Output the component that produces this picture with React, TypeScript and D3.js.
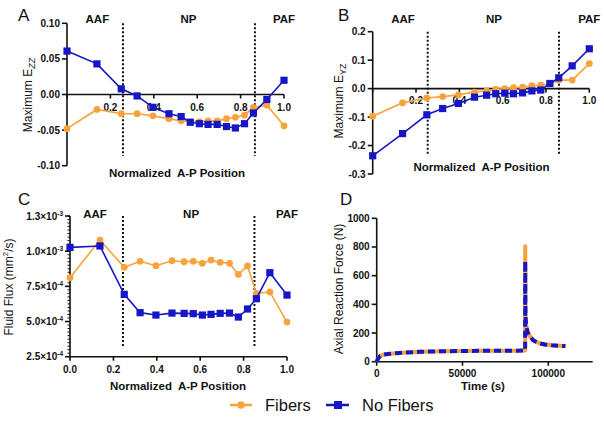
import React from 'react';
import * as d3 from 'd3';

// ---------- data ----------
const positions = [0, 0.138, 0.25, 0.323, 0.396, 0.47, 0.526, 0.568, 0.61, 0.65, 0.692, 0.735, 0.776, 0.818, 0.859, 0.921, 1.0];

const fibersA = [-0.048, -0.021, -0.027, -0.027, -0.030, -0.034, -0.037, -0.038, -0.038, -0.037, -0.037, -0.034, -0.032, -0.029, -0.018, -0.015, -0.044];
const noFibersA = [0.061, 0.043, 0.008, -0.002, -0.018, -0.027, -0.031, -0.039, -0.041, -0.042, -0.042, -0.045, -0.047, -0.041, -0.026, -0.007, 0.020];

const fibersB = [-0.097, -0.050, -0.033, -0.028, -0.022, -0.012, -0.008, -0.003, 0.0, 0.003, 0.005, 0.010, 0.012, 0.016, 0.030, 0.030, 0.088];
const noFibersB = [-0.236, -0.158, -0.092, -0.070, -0.052, -0.030, -0.023, -0.018, -0.016, -0.018, -0.015, -0.008, -0.005, 0.018, 0.038, 0.080, 0.140];

const fibersC = [8.12e-4, 1.079e-3, 8.85e-4, 9.28e-4, 8.97e-4, 9.32e-4, 9.25e-4, 9.28e-4, 9.14e-4, 9.37e-4, 9.21e-4, 9.14e-4, 8.35e-4, 8.95e-4, 7.0e-4, 7.1e-4, 4.96e-4];
const noFibersC = [1.027e-3, 1.037e-3, 6.93e-4, 5.63e-4, 5.46e-4, 5.6e-4, 5.58e-4, 5.56e-4, 5.46e-4, 5.51e-4, 5.58e-4, 5.6e-4, 5.32e-4, 5.89e-4, 6.62e-4, 8.47e-4, 6.88e-4];

const timeD = [0, 800, 2000, 4000, 8000, 15000, 25000, 40000, 60000, 80000, 86500, 86550, 86650, 86800, 87200, 88000, 89000, 91000, 93000, 95000, 98000, 102000, 106000, 110000];
const fibersD = [0, 22, 40, 50, 56, 63, 69, 73, 76, 77, 78, 805, 400, 300, 244, 205, 182, 152, 138, 128, 120, 114, 111, 109];
const noFibersD = [0, 22, 40, 50, 56, 63, 69, 73, 76, 77, 78, 700, 400, 300, 244, 205, 182, 152, 138, 128, 120, 114, 111, 109];

const regionNames = ['AAF', 'NP', 'PAF'];
const regionLabelPos = [0.14, 0.56, 1.0];
const regionBounds = [0.252, 0.86];

const xTicksProfile = [0, 0.2, 0.4, 0.6, 0.8, 1.0];
const yTicksA = [-0.1, -0.05, 0, 0.05, 0.1];
const yTicksB = [-0.3, -0.2, -0.1, 0, 0.1, 0.2];
const yTicksC = [2.5e-4, 5e-4, 7.5e-4, 1e-3, 1.25e-3];
const yTickLabelsC = [['2.5', '-4'], ['5.0', '-4'], ['7.5', '-4'], ['1.0', '-3'], ['1.3', '-3']];
const xTicksD = [0, 50000, 100000];
const yTicksD = [0, 200, 400, 600, 800, 1000];

const seriesNames = ['Fibers', 'No Fibers'];

// ---------- style ----------
const ORANGE = '#F7A23A';
const BLUE = '#1616C6';
const INK = '#111';
const FONT = 'Arial, "Liberation Sans", Helvetica, sans-serif';

const hy = (s: string) => s.replace('\u2212', '-');

function Markers({ xs, ys, kind, color }: any) {
  return (
    <g>
      {xs.map((x: number, i: number) =>
        kind === 'circle' ? (
          <circle key={i} cx={x} cy={ys[i]} r={3.4} fill={color} />
        ) : (
          <rect key={i} x={x - 3.6} y={ys[i] - 3.6} width={7.2} height={7.2} fill={color} />
        )
      )}
    </g>
  );
}

function ProfilePanel({ cfg }: any) {
  const x = d3.scaleLinear().domain([0, 1]).range(cfg.xRange);
  const y = d3.scaleLinear().domain(cfg.yDomain).range(cfg.yRange);
  const line = d3.line<number>().x((_, i) => x(positions[i])).y((d) => y(d));
  const xAxisY = y(cfg.xAxisValue);
  const x0 = cfg.xRange[0];
  const xs = positions.map((p) => x(p));
  const minor = cfg.minorStep ? d3.range(cfg.yDomain[0], cfg.yDomain[1] + 1e-12, cfg.minorStep) : [];
  return (
    <g fontFamily={FONT} fill={INK}>
      <text x={cfg.letterPos[0]} y={cfg.letterPos[1]} fontSize={17}>{cfg.letter}</text>
      {regionNames.map((r, i) => (
        <text key={r} x={x(cfg.regionPos ? cfg.regionPos[i] : regionLabelPos[i])} y={cfg.regionY} fontSize={11.5} fontWeight="bold" textAnchor="middle">{r}</text>
      ))}
      {(cfg.bounds || regionBounds).map((b: number, i: number) => (
        <line key={i} x1={x(b)} x2={x(b)} y1={cfg.yRange[1]} y2={cfg.dividerBottom} stroke={INK} strokeWidth={2} strokeDasharray="2,2" />
      ))}
      <line x1={x0} x2={x0} y1={cfg.yRange[0]} y2={cfg.yRange[1]} stroke={INK} strokeWidth={1.6} />
      {minor.map((v: number, i: number) => (
        <line key={'m' + i} x1={x0 - 2.5} x2={x0} y1={y(v)} y2={y(v)} stroke={INK} strokeWidth={1} />
      ))}
      {cfg.yTicks.map((v: number, i: number) => (
        <g key={i}>
          <line x1={x0 - 5} x2={x0} y1={y(v)} y2={y(v)} stroke={INK} strokeWidth={1.6} />
          {cfg.yTickLabels ? (
            <text x={x0 - 7} y={y(v)} dy="0.35em" fontSize={10} fontWeight="bold" textAnchor="end">
              {cfg.yTickLabels[i][0]}×10<tspan dy={-4} fontSize={6.5}>{cfg.yTickLabels[i][1]}</tspan>
            </text>
          ) : (
            <text x={x0 - 7} y={y(v)} dy="0.35em" fontSize={10} fontWeight="bold" textAnchor="end">{hy(d3.format(cfg.yFmt)(v))}</text>
          )}
        </g>
      ))}
      <line x1={x0} x2={cfg.xRange[1]} y1={xAxisY} y2={xAxisY} stroke={INK} strokeWidth={1.6} />
      {xTicksProfile.map((v, i) => (
        <g key={i}>
          <line x1={x(v)} x2={x(v)} y1={xAxisY} y2={xAxisY + 4} stroke={INK} strokeWidth={1.6} />
          {(cfg.showZero || v !== 0) && (
            <text x={x(v)} y={xAxisY + cfg.xTickDy} fontSize={10} fontWeight="bold" textAnchor="middle">{d3.format('.1f')(v)}</text>
          )}
        </g>
      ))}
      <text x={cfg.xLabelPos[0]} y={cfg.xLabelPos[1]} fontSize={11.5} fontWeight="bold" textAnchor="middle" style={{ whiteSpace: 'pre' }}>{'Normalized  A-P Position'}</text>
      <text transform={`translate(${cfg.yLabelPos[0]},${cfg.yLabelPos[1]}) rotate(-90)`} fontSize={12} textAnchor="middle">
        {cfg.yLabel}
      </text>
      <path d={line(cfg.fibers) || ''} fill="none" stroke={ORANGE} strokeWidth={1.6} />
      <Markers xs={xs} ys={cfg.fibers.map((d: number) => y(d))} kind="circle" color={ORANGE} />
      <path d={line(cfg.noFibers) || ''} fill="none" stroke={BLUE} strokeWidth={1.6} />
      <Markers xs={xs} ys={cfg.noFibers.map((d: number) => y(d))} kind="square" color={BLUE} />
    </g>
  );
}

function ForcePanel() {
  const x = d3.scaleLinear().domain([0, 125000]).range([376.7, 591.2]);
  const y = d3.scaleLinear().domain([0, 1000]).range([361.7, 218.3]);
  const line = d3.line<number>().x((_, i) => x(timeD[i])).y((d) => y(d));
  const x0 = 376.7;
  const yb = 361.7;
  return (
    <g fontFamily={FONT} fill={INK}>
      <text x={340} y={205} fontSize={17}>D</text>
      <line x1={x0} x2={x0} y1={yb} y2={218.3} stroke={INK} strokeWidth={1.6} />
      {yTicksD.map((v, i) => (
        <g key={i}>
          <line x1={x0 - 5} x2={x0} y1={y(v)} y2={y(v)} stroke={INK} strokeWidth={1.6} />
          <text x={x0 - 7} y={y(v)} dy="0.35em" fontSize={10} fontWeight="bold" textAnchor="end">{v}</text>
        </g>
      ))}
      <line x1={x0} x2={592.7} y1={yb} y2={yb} stroke={INK} strokeWidth={1.6} />
      {xTicksD.map((v, i) => (
        <g key={i}>
          <line x1={x(v)} x2={x(v)} y1={yb} y2={yb + 4} stroke={INK} strokeWidth={1.6} />
          <text x={x(v)} y={yb + 15} fontSize={10} fontWeight="bold" textAnchor="middle">{v}</text>
        </g>
      ))}
      <text x={483} y={390} fontSize={11.5} fontWeight="bold" textAnchor="middle">Time (s)</text>
      <text transform="translate(343,289) rotate(-90)" fontSize={12} textAnchor="middle">Axial Reaction Force (N)</text>
      <path d={line(fibersD) || ''} fill="none" stroke={ORANGE} strokeWidth={4} strokeLinejoin="round" />
      <path d={line(noFibersD) || ''} fill="none" stroke={BLUE} strokeWidth={4} strokeDasharray="7,4" />
    </g>
  );
}

export default function App() {
  const panelA = {
    letter: 'A', letterPos: [18, 21],
    xRange: [67, 284], yDomain: [-0.1, 0.1], yRange: [165.7, 23.3],
    yTicks: yTicksA, yFmt: '.2f', xAxisValue: 0, showZero: false, xTickDy: 16,
    regionY: 23, dividerBottom: 156, xLabelPos: [177, 177], yLabelPos: [31.5, 95],
    fibers: fibersA, noFibers: noFibersA,
    bounds: [0.258, 0.866],
    yLabel: (<>Maximum E<tspan dy={3} fontSize={9} fontStyle="italic">ZZ</tspan></>),
  };
  const panelB = {
    letter: 'B', letterPos: [338, 21],
    xRange: [372.7, 589.3], yDomain: [-0.3, 0.2], yRange: [174, 31.7],
    yTicks: yTicksB, yFmt: '.1f', xAxisValue: 0, showZero: false, xTickDy: 15,
    regionY: 23, dividerBottom: 155, xLabelPos: [481.5, 171], yLabelPos: [343, 101],
    fibers: fibersB, noFibers: noFibersB,
    bounds: [0.254, 0.86],
    yLabel: (<>Maximum E<tspan dy={3} fontSize={9}>YZ</tspan></>),
  };
  const panelC = {
    letter: 'C', letterPos: [18, 205],
    xRange: [70, 287], yDomain: [2.5e-4, 1.25e-3], yRange: [356.7, 216],
    yTicks: yTicksC, yTickLabels: yTickLabelsC, xAxisValue: 2.5e-4, showZero: true, xTickDy: 16,
    regionY: 218, dividerBottom: 347, xLabelPos: [178, 390], yLabelPos: [13.3, 287],
    fibers: fibersC, noFibers: noFibersC, minorStep: 2.5e-5,
    bounds: [0.244, 0.85], regionPos: [0.115, 0.558, 1.0],
    yLabel: (<>Fluid Flux (mm<tspan dy={-5} fontSize={8}>2</tspan><tspan dy={5}>/s)</tspan></>),
  };
  return (
    <svg width={604} height={424} style={{ position: 'absolute', left: 0, top: 0, background: '#fff' }}>
      <rect width={604} height={424} fill="#fff" />
      <ProfilePanel cfg={panelA} />
      <ProfilePanel cfg={panelB} />
      <ProfilePanel cfg={panelC} />
      <ForcePanel />
      <g fontFamily={FONT}>
        <line x1={230} x2={252} y1={405} y2={405} stroke={ORANGE} strokeWidth={2.5} />
        <circle cx={241} cy={405} r={3.8} fill={ORANGE} />
        <text x={265} y={411} fontSize={16.5} fill={INK}>{seriesNames[0]}</text>
        <line x1={326} x2={349} y1={405} y2={405} stroke={BLUE} strokeWidth={2.5} />
        <rect x={334} y={401} width={8} height={8} fill={BLUE} />
        <text x={362} y={411} fontSize={16.5} fill={INK}>{seriesNames[1]}</text>
      </g>
    </svg>
  );
}
